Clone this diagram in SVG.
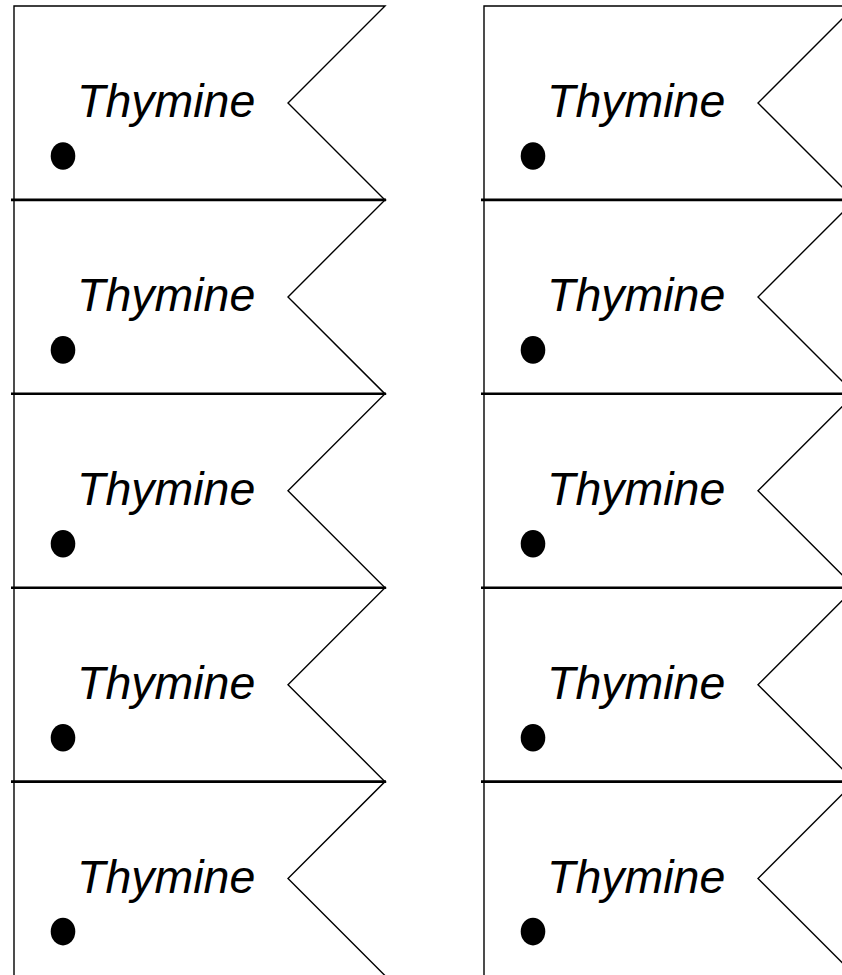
<svg xmlns="http://www.w3.org/2000/svg" width="842" height="975" viewBox="0 0 842 975">
<style>
.tag{fill:#fff;stroke:#000;stroke-width:1.4;stroke-linejoin:miter}
.sep{stroke:#000;stroke-width:2.6}
.lbl{font-family:"Liberation Sans",Arial,sans-serif;font-style:italic;font-size:46.5px;fill:#000}
.dot{fill:#000}
</style>
<defs>
<g id="cell">
<polygon class="tag" points="14,0 385,0 288,97 385,194 14,194"/>
<text class="lbl" x="77" y="111">Thymine</text>
<ellipse class="dot" cx="63" cy="150" rx="12.3" ry="13.8"/>
</g>
</defs>
<rect width="842" height="975" fill="#fff"/>
<g id="n1"><use href="#cell" transform="translate(0,6)"/></g>
<g id="n2"><use href="#cell" transform="translate(0,199.9)"/></g>
<g id="n3"><use href="#cell" transform="translate(0,393.8)"/></g>
<g id="n4"><use href="#cell" transform="translate(0,587.7)"/></g>
<g id="n5"><use href="#cell" transform="translate(0,781.6)"/></g>
<g id="n6"><use href="#cell" transform="translate(470,6)"/></g>
<g id="n7"><use href="#cell" transform="translate(470,199.9)"/></g>
<g id="n8"><use href="#cell" transform="translate(470,393.8)"/></g>
<g id="n9"><use href="#cell" transform="translate(470,587.7)"/></g>
<g id="n10"><use href="#cell" transform="translate(470,781.6)"/></g>
<g id="connectors">
<line class="sep" x1="11" y1="199.9" x2="386" y2="199.9"/>
<line class="sep" x1="11" y1="393.8" x2="386" y2="393.8"/>
<line class="sep" x1="11" y1="587.7" x2="386" y2="587.7"/>
<line class="sep" x1="11" y1="781.6" x2="386" y2="781.6"/>
<line class="sep" x1="481" y1="199.9" x2="856" y2="199.9"/>
<line class="sep" x1="481" y1="393.8" x2="856" y2="393.8"/>
<line class="sep" x1="481" y1="587.7" x2="856" y2="587.7"/>
<line class="sep" x1="481" y1="781.6" x2="856" y2="781.6"/>
</g>
</svg>
